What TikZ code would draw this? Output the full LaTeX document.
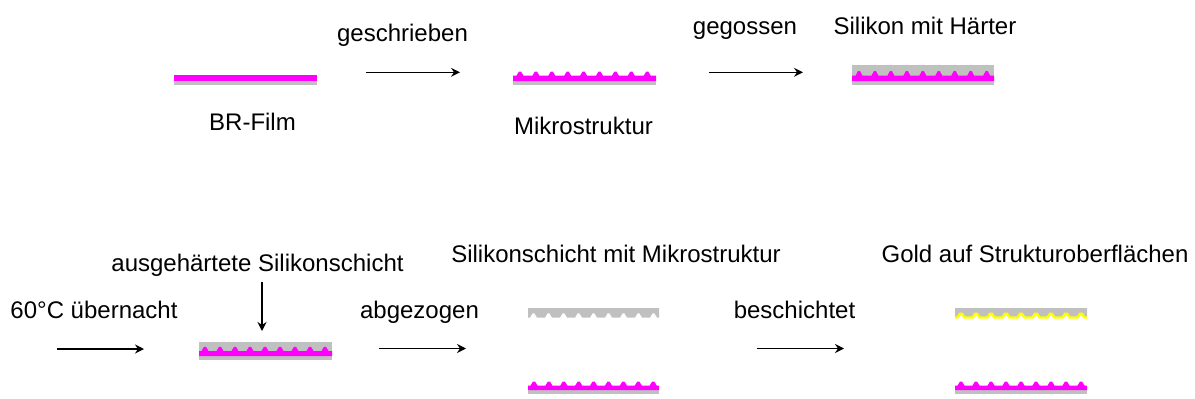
\documentclass[tikz,border=0pt]{standalone}
\usepackage{fontspec}
\setmainfont{Liberation Sans}
\usetikzlibrary{arrows.meta}
\definecolor{film}{RGB}{255,0,255}
\definecolor{sil}{RGB}{192,192,192}
\definecolor{goldlayer}{RGB}{255,255,0}

\begin{document}
\begin{tikzpicture}[x=1pt,y=-1pt,
  lbl/.style={anchor=base,inner sep=0pt,font=\fontsize{24}{28}\selectfont},
  flow/.style={line width=1.5pt,-{Stealth[length=9pt,width=9pt,inset=3pt]}}]
\useasboundingbox (0,0) rectangle (1195,399);

% ---------- row 1: film, written microstructure, cast silicone ----------
% plain BR film on gray carrier
\fill[film] (174,75) rectangle (317,81);
\fill[sil]  (174,81) rectangle (317,85);

% film with written bumps
\fill[sil] (513,81) rectangle (656,85);
\fill[film] (513,81) -- (513,75.7)
  \foreach \i in {0,...,8} { -- ({520+\i*15.9-3.5},75.7) -- ({520+\i*15.9-1},71.5) -- ({520+\i*15.9+1},71.5) -- ({520+\i*15.9+3.5},75.7) }
  -- (656,75.7) -- (656,81) -- cycle;

% silicone with hardener poured over the structure
\fill[sil] (852,65) rectangle (994,85);
\fill[film] (852,81) -- (852,75.7)
  \foreach \i in {0,...,8} { -- ({859+\i*15.96-3.5},75.7) -- ({859+\i*15.96-1},71) -- ({859+\i*15.96+1},71) -- ({859+\i*15.96+3.5},75.7) }
  -- (994,75.7) -- (994,81) -- cycle;

% ---------- row 2 ----------
% cured silicone layer
\fill[sil] (199,342) rectangle (332,360);
\fill[film] (199,356) -- (199,351)
  \foreach \i in {0,...,8} { -- ({205+\i*15-3.5},351) -- ({205+\i*15-1},346.8) -- ({205+\i*15+1},346.8) -- ({205+\i*15+3.5},351) }
  -- (332,351) -- (332,356) -- cycle;

% peeled silicone with imprinted structure
\fill[sil] (528,308) -- (528,317.5)
  \foreach \i in {0,...,8} { -- ({533.5+\i*15-3.5},317.5) -- ({533.5+\i*15-1},313.3) -- ({533.5+\i*15+1},313.3) -- ({533.5+\i*15+3.5},317.5) }
  -- (659,317.5) -- (659,308) -- cycle;
% remaining film
\fill[sil] (528,390) rectangle (659,394);
\fill[film] (528,390) -- (528,385.5)
  \foreach \i in {0,...,8} { -- ({534+\i*14.9-3.5},385.5) -- ({534+\i*14.9-1},381.5) -- ({534+\i*14.9+1},381.5) -- ({534+\i*14.9+3.5},385.5) }
  -- (659,385.5) -- (659,390) -- cycle;

% silicone coated with gold
\fill[sil] (955,308) -- (955,317)
  \foreach \i in {0,...,8} { -- ({961+\i*15-3.5},317) -- ({961+\i*15-1},313) -- ({961+\i*15+1},313) -- ({961+\i*15+3.5},317) }
  -- (1087,317) -- (1087,308) -- cycle;
\draw[goldlayer,line width=2.4pt] (955,317.5)
  \foreach \i in {0,...,8} { -- ({961+\i*15-3.5},317.5) -- ({961+\i*15-1},313.8) -- ({961+\i*15+1},313.8) -- ({961+\i*15+3.5},317.5) }
  -- (1087,317.5);
% remaining film
\fill[sil] (955,390) rectangle (1087,394);
\fill[film] (955,390) -- (955,385.5)
  \foreach \i in {0,...,8} { -- ({961+\i*15-3.5},385.5) -- ({961+\i*15-1},381.5) -- ({961+\i*15+1},381.5) -- ({961+\i*15+3.5},385.5) }
  -- (1087,385.5) -- (1087,390) -- cycle;

% ---------- labels ----------
\node[lbl] (tWrite)  at (402.5,41.7) {geschrieben};
\node[lbl] (tCast)   at (745,34.7)   {gegossen};
\node[lbl] (tHard)   at (925,34.7)   {Silikon mit Härter};
\node[lbl] (tFilm)   at (252.5,130.5) {BR-Film};
\node[lbl] (tMicro)  at (583.5,134.5) {Mikrostruktur};
\node[lbl] (tCured)  at (257.5,271.5) {ausgehärtete Silikonschicht};
\node[lbl] (tMold)   at (616,262)    {Silikonschicht mit Mikrostruktur};
\node[lbl] (tGold)   at (1035,262)   {Gold auf Strukturoberflächen};
\node[lbl] (tNight)  at (94,318.3)   {60°C übernacht};
\node[lbl] (tPeel)   at (419.5,318)  {abgezogen};
\node[lbl] (tCoat)   at (794.5,318)  {beschichtet};

% ---------- arrows ----------
\coordinate (a1s) at (366,72.3);  \coordinate (a1e) at (460,72.3);
\coordinate (a2s) at (709,72.3);  \coordinate (a2e) at (803,72.3);
\coordinate (b1s) at (57,349);    \coordinate (b1e) at (144,349);
\coordinate (bvs) at (262,282);   \coordinate (bve) at (262,331);
\coordinate (b2s) at (379,348.5); \coordinate (b2e) at (466,348.5);
\coordinate (b3s) at (757,348.5); \coordinate (b3e) at (844,348.5);

\draw[flow] (a1s) -- (a1e);
\draw[flow] (a2s) -- (a2e);
\draw[flow] (b1s) -- (b1e);
\draw[flow] (bvs) -- (bve);
\draw[flow] (b2s) -- (b2e);
\draw[flow] (b3s) -- (b3e);
\end{tikzpicture}
\end{document}
